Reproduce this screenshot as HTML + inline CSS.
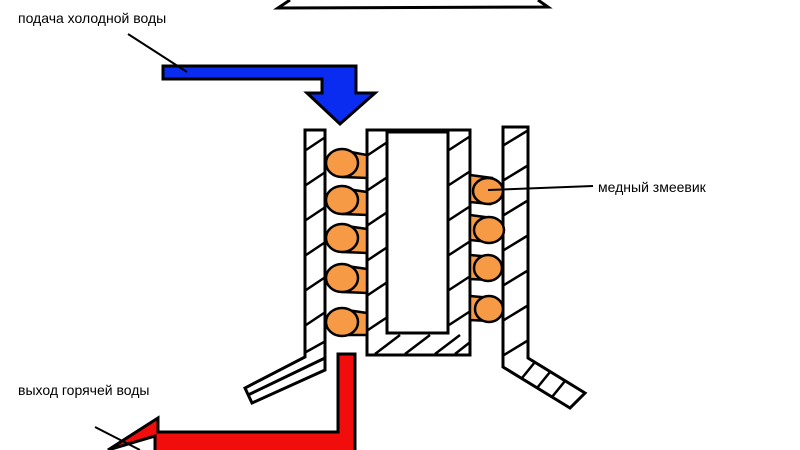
<!DOCTYPE html>
<html><head><meta charset="utf-8"><style>
html,body{margin:0;padding:0;background:#fff;width:800px;height:450px;overflow:hidden}
svg{display:block}
text{font-family:"Liberation Sans",sans-serif;font-size:14px;fill:#000}
</style></head><body>
<svg width="800" height="450" viewBox="0 0 800 450">
<g fill="none" stroke="#000" stroke-width="3">
<polyline points="290,0 278,8 548,7 538,0"/>
</g>
<text x="18" y="23">подача холодной воды</text>
<text x="598" y="192">медный змеевик</text>
<text x="18" y="395">выход горячей воды</text>
<!-- blue arrow -->
<polygon points="163,66 356,66 356,93 375,93 340,124 307,93 322,93 322,79 163,79" fill="#0a2cf0" stroke="#000" stroke-width="3"/>
<line x1="128" y1="34" x2="187" y2="72" stroke="#000" stroke-width="2"/>
<!-- left wall -->
<g fill="#fff" stroke="#000" stroke-width="3">
<polygon points="305,130 325,130 325,370 252,403 245,388 305,357"/>
<line x1="325" y1="358" x2="248" y2="395"/>
<!-- center U -->
<polygon points="367,130 470,130 470,355 367,355"/>
<rect x="387" y="132" width="61" height="201"/>
<!-- right wall -->
<polygon points="503,127 528,127 528,358 585,393 570,408 503,367"/>
</g>
<g stroke="#000" stroke-width="2.5">
<!-- hatches left wall -->
<line x1="306" y1="150" x2="324" y2="138"/><line x1="306" y1="185" x2="324" y2="173"/>
<line x1="306" y1="220" x2="324" y2="208"/><line x1="306" y1="255" x2="324" y2="243"/>
<line x1="306" y1="290" x2="324" y2="278"/><line x1="306" y1="325" x2="324" y2="313"/>
<line x1="306" y1="352" x2="324" y2="342"/>
<!-- center left wall -->
<line x1="368" y1="155" x2="386" y2="143"/><line x1="368" y1="190" x2="386" y2="178"/>
<line x1="368" y1="225" x2="386" y2="213"/><line x1="368" y1="260" x2="386" y2="248"/>
<line x1="368" y1="295" x2="386" y2="283"/><line x1="368" y1="330" x2="386" y2="318"/>
<!-- center right wall -->
<line x1="449" y1="150" x2="469" y2="137"/><line x1="449" y1="185" x2="469" y2="172"/>
<line x1="449" y1="220" x2="469" y2="207"/><line x1="449" y1="255" x2="469" y2="242"/>
<line x1="449" y1="290" x2="469" y2="277"/><line x1="449" y1="325" x2="469" y2="312"/>
<!-- bottom -->
<line x1="375" y1="354" x2="400" y2="335"/><line x1="405" y1="354" x2="430" y2="335"/>
<line x1="435" y1="354" x2="460" y2="335"/><line x1="455" y1="354" x2="469" y2="343"/>
<!-- right wall -->
<line x1="504" y1="145" x2="527" y2="131"/><line x1="504" y1="180" x2="527" y2="166"/>
<line x1="504" y1="215" x2="527" y2="201"/><line x1="504" y1="250" x2="527" y2="236"/>
<line x1="504" y1="285" x2="527" y2="271"/><line x1="504" y1="320" x2="527" y2="306"/>
<line x1="504" y1="355" x2="527" y2="341"/>
<line x1="535" y1="362" x2="522" y2="378"/><line x1="550" y1="372" x2="537" y2="388"/><line x1="565" y1="381" x2="552" y2="397"/>
</g>
<!-- left coils -->
<g fill="#f79a45" stroke="#000" stroke-width="2.5">
<path d="M340,150 L367,155 L367,178 L343,177 Z"/><ellipse cx="342" cy="163" rx="16" ry="14"/>
<path d="M340,188 L367,192 L367,215 L343,214 Z"/><ellipse cx="342" cy="200" rx="16" ry="14"/>
<path d="M340,225 L367,229 L367,253 L343,252 Z"/><ellipse cx="342" cy="238" rx="16" ry="14"/>
<path d="M340,265 L367,269 L367,293 L343,292 Z"/><ellipse cx="342" cy="278" rx="16" ry="14"/>
<path d="M340,309 L367,313 L367,335 L343,335 Z"/><ellipse cx="342" cy="322" rx="16" ry="14"/>
<!-- right coils -->
<path d="M470,175 L492,178 L490,204 L470,202 Z"/><ellipse cx="488" cy="191" rx="15" ry="13"/>
<path d="M470,215 L492,218 L490,242 L470,240 Z"/><ellipse cx="489" cy="230" rx="15" ry="13"/>
<path d="M470,255 L492,257 L490,280 L470,279 Z"/><ellipse cx="488" cy="268" rx="14" ry="13"/>
<path d="M470,296 L492,298 L490,321 L470,320 Z"/><ellipse cx="489" cy="309" rx="14" ry="13"/>
</g>
<line x1="488" y1="190" x2="593" y2="186" stroke="#000" stroke-width="2"/>
<!-- red arrow -->
<polygon points="338,354 355,354 355,455 155,455 155,436 108,450 158,418 158,432 338,432" fill="#f20d0d" stroke="#000" stroke-width="3"/>
<line x1="95" y1="427" x2="140" y2="450" stroke="#000" stroke-width="2"/>
</svg>
</body></html>
